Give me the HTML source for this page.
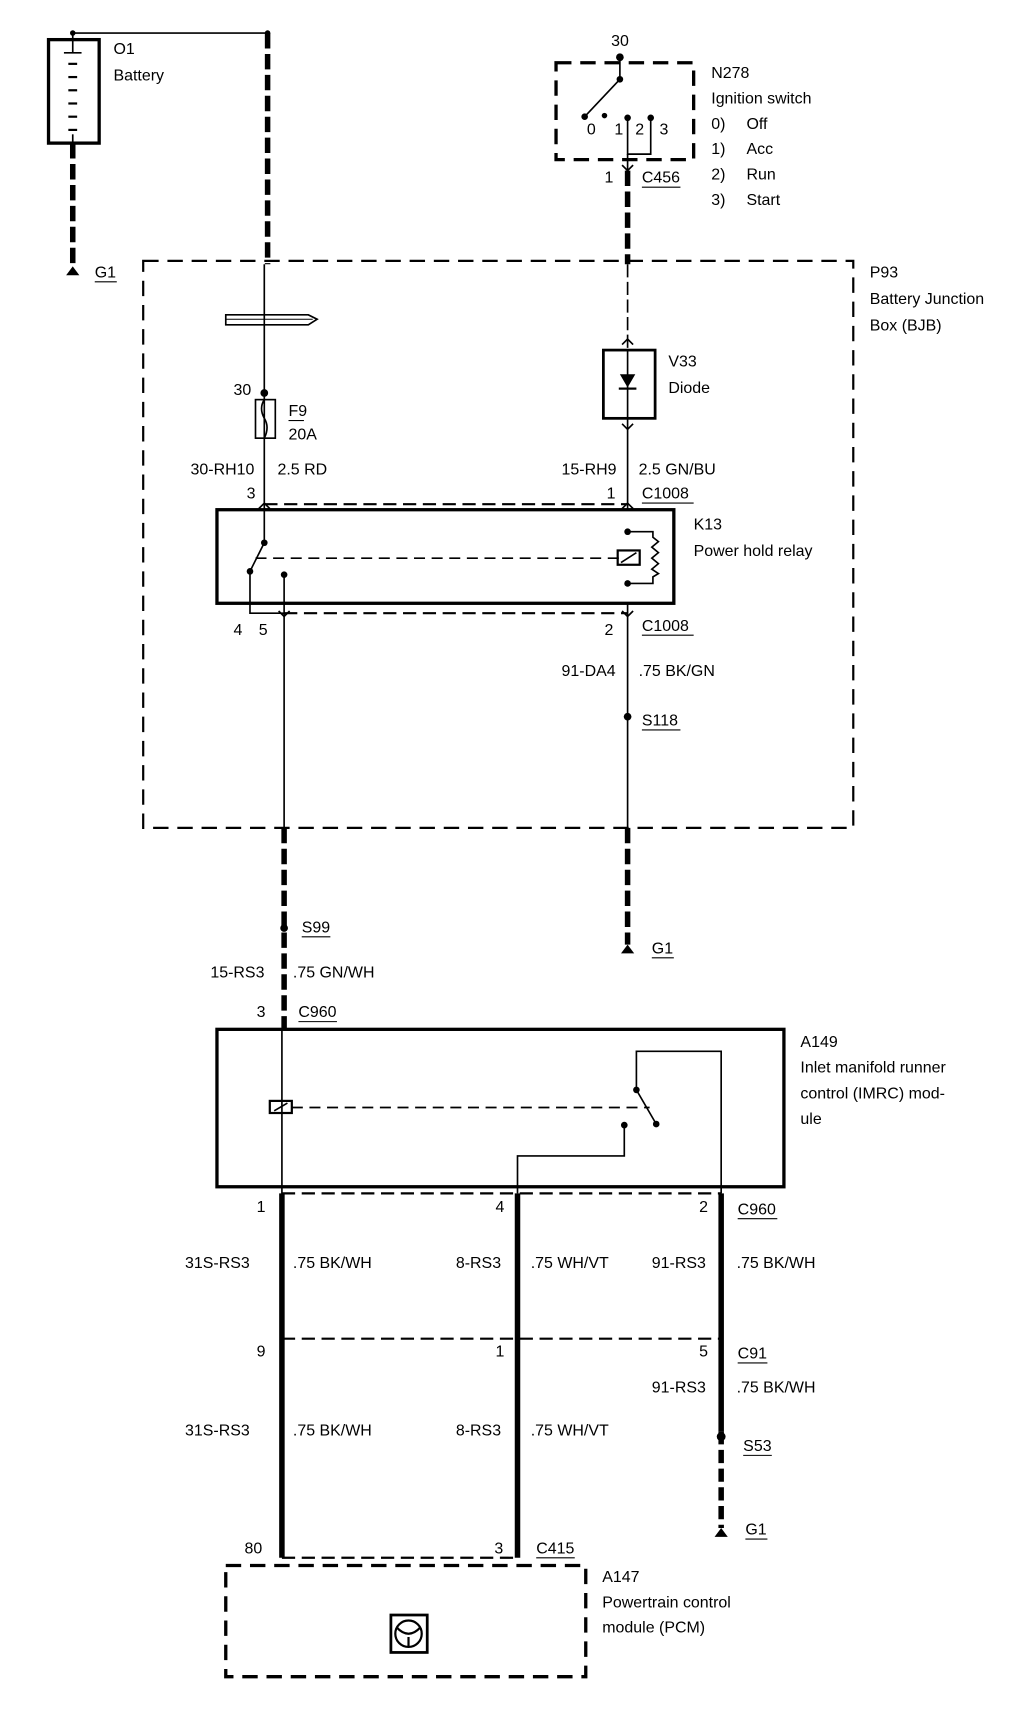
<!DOCTYPE html>
<html><head><meta charset="utf-8"><style>
html,body{margin:0;padding:0;background:#fff;}
svg{display:block;}
text{font-family:"Liberation Sans",sans-serif;font-size:14.5px;fill:#000;}
</style></head><body>
<svg width="1024" height="1724" viewBox="0 0 930 1566" xmlns="http://www.w3.org/2000/svg">
<g fill="none" stroke="#000">
<!-- Battery -->
<rect x="44" y="36" width="46" height="94" stroke-width="3"/>
<line x1="66" y1="30" x2="243" y2="30" stroke-width="1.5"/>
<line x1="66" y1="30" x2="66" y2="48" stroke-width="1.5"/>
<line x1="58" y1="48" x2="74" y2="48" stroke-width="1.5"/>
<g stroke-width="2"><line x1="62" y1="58" x2="70" y2="58"/><line x1="62" y1="70" x2="70" y2="70"/><line x1="62" y1="82" x2="70" y2="82"/><line x1="62" y1="94" x2="70" y2="94"/><line x1="62" y1="106" x2="70" y2="106"/><line x1="62" y1="118" x2="70" y2="118"/></g>
<line x1="66" y1="122" x2="66" y2="130" stroke-width="1.5"/>
<line x1="66" y1="130" x2="66" y2="240" stroke-width="5" stroke-dasharray="14,5"/>
<line x1="243" y1="30" x2="243" y2="240" stroke-width="5" stroke-dasharray="14,5"/>
<!-- ignition -->
<rect x="505" y="57" width="125" height="88" stroke-width="3" stroke-dasharray="14,8"/>
<line x1="563" y1="50" x2="563" y2="72" stroke-width="1.5"/>
<line x1="563" y1="72" x2="531" y2="106" stroke-width="1.5"/>
<polyline points="570,107 570,140 591,140 591,107" stroke-width="1.5"/>
<line x1="570" y1="140" x2="570" y2="155" stroke-width="1.5"/>
<path d="M565 150 L570 155 L575 150" stroke-width="1.5"/>
<line x1="570" y1="155" x2="570" y2="240" stroke-width="5" stroke-dasharray="14,5"/>
<!-- P93 box -->
<rect x="130" y="237" width="645" height="515" stroke-width="2" stroke-dasharray="14,8"/>
<line x1="240" y1="240" x2="240" y2="463" stroke-width="1.5"/>
<path d="M205 286 H280 L288 290 L280 295 H205 Z" stroke-width="1.5"/>
<line x1="205" y1="290" x2="284" y2="290" stroke-width="1"/>
<rect x="232" y="363" width="18" height="35" stroke-width="1.5"/>
<path d="M240 363 q-5 8 0 17 q5 8 0 18" stroke-width="1.5"/>
<line x1="570" y1="240" x2="570" y2="318" stroke-width="1.5" stroke-dasharray="12,4"/>
<path d="M565 313 L570 308 L575 313 M565 385 L570 390 L575 385" stroke-width="1.5"/>
<rect x="548" y="318" width="47" height="62" stroke-width="2.5"/>
<line x1="570" y1="318" x2="570" y2="463" stroke-width="1.5"/>
<line x1="240" y1="458" x2="570" y2="458" stroke-width="2" stroke-dasharray="12,6"/>
<path d="M235 462 L240 457 L245 462 M565 462 L570 457 L575 462" stroke-width="1.5"/>
<rect x="197" y="463" width="415" height="85" stroke-width="3"/>
<line x1="240" y1="463" x2="240" y2="493" stroke-width="1.5"/>
<line x1="240" y1="493" x2="227" y2="519" stroke-width="1.5"/>
<line x1="232" y1="507" x2="562" y2="507" stroke-width="1.5" stroke-dasharray="10,6"/>
<rect x="561" y="500" width="20" height="13" stroke-width="2"/>
<line x1="564" y1="511" x2="578" y2="502" stroke-width="1.5"/>
<polyline points="570,483 593,483 593,488 598,492 592,497 598,502 592,507 598,512 592,517 598,521 593,524 593,530 570,530" stroke-width="1.5"/>
<polyline points="227,519 227,557 258,557" stroke-width="1.5"/>
<line x1="258" y1="522" x2="258" y2="752" stroke-width="1.5"/>
<line x1="258" y1="557" x2="570" y2="557" stroke-width="2" stroke-dasharray="12,6"/>
<path d="M253 555 L258 560 L263 555 M565 555 L570 560 L575 555" stroke-width="1.5"/>
<line x1="570" y1="548" x2="570" y2="752" stroke-width="1.5"/>
<line x1="258" y1="752" x2="258" y2="935" stroke-width="5" stroke-dasharray="14,5"/>
<line x1="570" y1="752" x2="570" y2="858" stroke-width="5" stroke-dasharray="14,5"/>
<!-- A149 -->
<rect x="197" y="935" width="515" height="143" stroke-width="3"/>
<line x1="256" y1="935" x2="256" y2="1090" stroke-width="1.5"/>
<rect x="245" y="1000" width="20" height="11" stroke-width="2"/>
<line x1="249" y1="1009" x2="261" y2="1002" stroke-width="1.5"/>
<line x1="265" y1="1006" x2="590" y2="1006" stroke-width="1.5" stroke-dasharray="10,6"/>
<polyline points="655,1084 655,955 578,955 578,990 596,1021" stroke-width="1.5"/>
<polyline points="567,1022 567,1050 470,1050 470,1084" stroke-width="1.5"/>
<line x1="256" y1="1084" x2="655" y2="1084" stroke-width="2" stroke-dasharray="12,6"/>
<g stroke-width="5"><line x1="256" y1="1084" x2="256" y2="1415"/><line x1="470" y1="1084" x2="470" y2="1415"/><line x1="655" y1="1084" x2="655" y2="1300"/></g>
<line x1="655" y1="1300" x2="655" y2="1388" stroke-width="5" stroke-dasharray="12,5"/>
<line x1="256" y1="1216" x2="655" y2="1216" stroke-width="2" stroke-dasharray="12,6"/>
<line x1="256" y1="1415" x2="470" y2="1415" stroke-width="2" stroke-dasharray="12,6"/>
<rect x="205" y="1422" width="327" height="101" stroke-width="3" stroke-dasharray="14,8"/>
<rect x="355" y="1467" width="33" height="34" stroke-width="2.5"/>
<circle cx="371" cy="1484" r="12" stroke-width="2"/>
<path d="M360 1478 q11 12 22 0 M371 1487 v9" stroke-width="2"/>
</g>
<g fill="#000">
<circle cx="66" cy="30" r="2.5"/><circle cx="243" cy="30" r="2.5"/>
<circle cx="563" cy="52" r="3.5"/><circle cx="563" cy="72" r="3"/><circle cx="531" cy="106" r="3"/><circle cx="549" cy="105" r="2.5"/><circle cx="570" cy="107" r="3"/><circle cx="591" cy="107" r="3"/>
<circle cx="240" cy="357" r="3.5"/>
<polygon points="563,340 577,340 570,352"/><rect x="562" y="352" width="16" height="2"/>
<circle cx="240" cy="493" r="3"/><circle cx="227" cy="519" r="3"/><circle cx="258" cy="522" r="3"/><circle cx="570" cy="483" r="3"/><circle cx="570" cy="530" r="3"/>
<circle cx="570" cy="651" r="3.5"/><circle cx="258" cy="843" r="3.5"/>
<circle cx="578" cy="990" r="3"/><circle cx="596" cy="1021" r="3"/><circle cx="567" cy="1022" r="3"/>
<circle cx="655" cy="1305" r="4"/>
<path d="M60 250 L66 242 L72 250Z"/><path d="M564 866 L570 858 L576 866Z"/><path d="M649 1396 L655 1388 L661 1396Z"/>
</g>
<text x="103" y="49">O1</text><text x="103" y="73">Battery</text>
<text x="86" y="252">G1</text><line x1="86" y1="256" x2="106" y2="256" stroke="#000"/>
<text x="555" y="42">30</text>
<text x="533" y="122" font-size="12">0</text><text x="558" y="122" font-size="12">1</text><text x="577" y="122" font-size="12">2</text><text x="599" y="122" font-size="12">3</text>
<text x="646" y="71">N278</text><text x="646" y="94">Ignition switch</text>
<text x="646" y="117">0)</text><text x="678" y="117">Off</text>
<text x="646" y="140">1)</text><text x="678" y="140">Acc</text>
<text x="646" y="163">2)</text><text x="678" y="163">Run</text>
<text x="646" y="186">3)</text><text x="678" y="186">Start</text>
<text x="549" y="166">1</text><text x="583" y="166">C456</text><line x1="583" y1="170" x2="618" y2="170" stroke="#000"/>
<text x="790" y="252">P93</text><text x="790" y="276">Battery Junction</text><text x="790" y="300">Box (BJB)</text>
<text x="212" y="359">30</text><text x="262" y="378">F9</text><line x1="262" y1="382" x2="276" y2="382" stroke="#000"/><text x="262" y="399">20A</text>
<text x="607" y="333">V33</text><text x="607" y="357">Diode</text>
<text x="173" y="431">30-RH10</text><text x="252" y="431">2.5 RD</text>
<text x="510" y="431">15-RH9</text><text x="580" y="431">2.5 GN/BU</text>
<text x="224" y="453">3</text><text x="551" y="453">1</text><text x="583" y="453">C1008</text><line x1="583" y1="457" x2="630" y2="457" stroke="#000"/>
<text x="630" y="481">K13</text><text x="630" y="505">Power hold relay</text>
<text x="212" y="577">4</text><text x="235" y="577">5</text><text x="549" y="577">2</text><text x="583" y="573">C1008</text><line x1="583" y1="577" x2="630" y2="577" stroke="#000"/>
<text x="510" y="614">91-DA4</text><text x="580" y="614">.75 BK/GN</text>
<text x="583" y="659">S118</text><line x1="583" y1="663" x2="618" y2="663" stroke="#000"/>
<text x="592" y="866">G1</text><line x1="592" y1="870" x2="612" y2="870" stroke="#000"/>
<text x="274" y="847">S99</text><line x1="274" y1="851" x2="300" y2="851" stroke="#000"/>
<text x="191" y="888">15-RS3</text><text x="266" y="888">.75 GN/WH</text>
<text x="233" y="924">3</text><text x="271" y="924">C960</text><line x1="271" y1="928" x2="306" y2="928" stroke="#000"/>
<text x="727" y="951">A149</text><text x="727" y="974">Inlet manifold runner</text><text x="727" y="998">control (IMRC) mod-</text><text x="727" y="1021">ule</text>
<text x="233" y="1101">1</text><text x="450" y="1101">4</text><text x="635" y="1101">2</text><text x="670" y="1103">C960</text><line x1="670" y1="1107" x2="706" y2="1107" stroke="#000"/>
<text x="168" y="1152">31S-RS3</text><text x="266" y="1152">.75 BK/WH</text><text x="414" y="1152">8-RS3</text><text x="482" y="1152">.75 WH/VT</text><text x="592" y="1152">91-RS3</text><text x="669" y="1152">.75 BK/WH</text>
<text x="233" y="1232">9</text><text x="450" y="1232">1</text><text x="635" y="1232">5</text><text x="670" y="1234">C91</text><line x1="670" y1="1238" x2="697" y2="1238" stroke="#000"/>
<text x="592" y="1265">91-RS3</text><text x="669" y="1265">.75 BK/WH</text>
<text x="168" y="1304">31S-RS3</text><text x="266" y="1304">.75 BK/WH</text><text x="414" y="1304">8-RS3</text><text x="482" y="1304">.75 WH/VT</text>
<text x="675" y="1318">S53</text><line x1="675" y1="1322" x2="701" y2="1322" stroke="#000"/>
<text x="677" y="1394">G1</text><line x1="677" y1="1398" x2="697" y2="1398" stroke="#000"/>
<text x="222" y="1411">80</text><text x="449" y="1411">3</text><text x="487" y="1411">C415</text><line x1="487" y1="1415" x2="522" y2="1415" stroke="#000"/>
<text x="547" y="1437">A147</text><text x="547" y="1460">Powertrain control</text><text x="547" y="1483">module (PCM)</text>
</svg>
</body></html>
